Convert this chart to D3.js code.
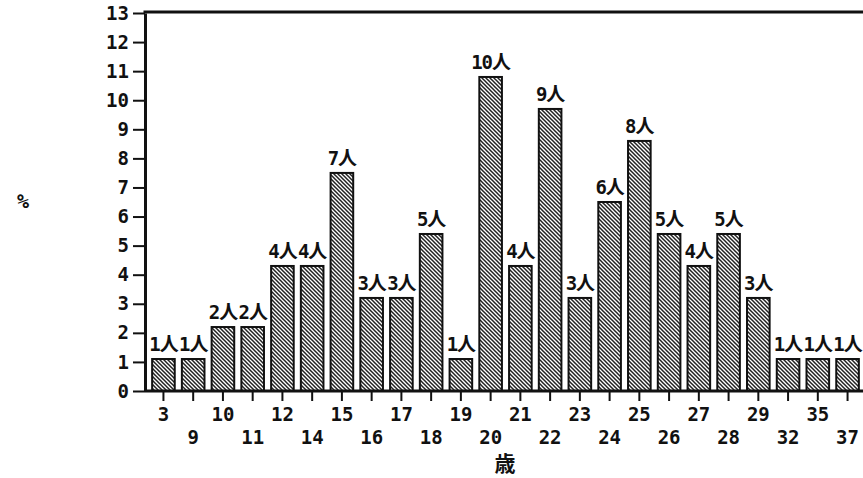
<!DOCTYPE html>
<html>
<head>
<meta charset="utf-8">
<script src="https://cdnjs.cloudflare.com/ajax/libs/d3/7.8.5/d3.min.js"></script>
<style>
  body { margin: 0; background: #fff; }
  svg text { font-family: "DejaVu Sans Mono", "Noto Sans CJK JP", monospace; fill: #111; font-weight: bold; }
</style>
</head>
<body>
<div id="chart"></div>
<script>
    "use strict";

    // ages (歳)
    var ages = ['3','9','10','11','12','14','15','16','17','18','19','20',
                '21','22','23','24','25','26','27','28','29','32','35','37'];
    // number of people per age
    var counts = [1,1,2,2,4,4,7,3,3,5,1,10,4,9,3,6,8,5,4,5,3,1,1,1];
    // percentage
    var pct = [1.1,1.1,2.2,2.2,4.3,4.3,7.5,3.2,3.2,5.4,1.1,10.8,
               4.3,9.7,3.2,6.5,8.6,5.4,4.3,5.4,3.2,1.1,1.1,1.1];
    var yTicks = [0,1,2,3,4,5,6,7,8,9,10,11,12,13];

    var width = 863, height = 478;
    var x0 = 145, yBase = 391, yTop = 13;

    var svg = d3.select("#chart").append("svg")
        .attr("width", width)
        .attr("height", height);

    // hatch fill
    var pat = svg.append("defs").append("pattern")
        .attr("id", "hatch")
        .attr("patternUnits", "userSpaceOnUse")
        .attr("width", 4)
        .attr("height", 4);
    pat.append("rect").attr("width", 4).attr("height", 4).attr("fill", "#fff");
    pat.append("path")
        .attr("d", "M-1,-1L5,5M3,-1L5,1M-1,3L1,5")
        .attr("stroke", "#222")
        .attr("stroke-width", 1.5);

    var x = d3.scaleBand()
        .domain(ages)
        .range([x0, 866])
        .padding(0.24);

    var y = d3.scaleLinear()
        .domain([0, 13])
        .range([yBase, yTop]);

    // bars
    svg.selectAll(".bar")
        .data(ages)
        .enter()
        .append("rect")
        .attr("class", "bar")
        .attr("x", function (d) { return x(d); })
        .attr("y", function (d, i) { return y(pct[i]); })
        .attr("width", x.bandwidth())
        .attr("height", function (d, i) { return yBase - y(pct[i]); })
        .attr("fill", "url(#hatch)")
        .attr("stroke", "#111")
        .attr("stroke-width", 2);

    // count labels
    svg.selectAll(".lbl")
        .data(ages)
        .enter()
        .append("text")
        .attr("class", "lbl")
        .attr("x", function (d) { return x(d) + x.bandwidth() / 2; })
        .attr("y", function (d, i) { return y(pct[i]) - 8; })
        .attr("text-anchor", "middle")
        .attr("letter-spacing", "-1")
        .style("font-size", "19px")
        .text(function (d, i) { return counts[i] + "人"; });

    // y axis
    var yAxis = svg.append("g")
        .attr("transform", "translate(" + x0 + ",0)")
        .call(d3.axisLeft(y).tickValues(yTicks).tickSize(12).tickPadding(4).tickSizeOuter(0));
    yAxis.select(".domain").attr("stroke", "#111").attr("stroke-width", 3);
    yAxis.selectAll(".tick line").attr("stroke", "#111").attr("stroke-width", 2);
    yAxis.selectAll(".tick text").style("font-size", "19px").style("font-family", null);

    // x axis
    var xAxis = svg.append("g")
        .attr("transform", "translate(0," + yBase + ")")
        .call(d3.axisBottom(x).tickSize(10).tickSizeOuter(0));
    xAxis.select(".domain").remove();
    xAxis.selectAll(".tick line").attr("stroke", "#111").attr("stroke-width", 2);
    xAxis.selectAll(".tick text")
        .style("font-size", "19px")
        .style("font-family", null)
        .attr("dy", null)
        .attr("y", function (d, i) { return i % 2 === 0 ? 30 : 53; });

    // frame lines
    svg.append("line")
        .attr("x1", x0).attr("x2", width)
        .attr("y1", yBase).attr("y2", yBase)
        .attr("stroke", "#111").attr("stroke-width", 3);
    svg.append("line")
        .attr("x1", x0 - 1.5).attr("x2", width)
        .attr("y1", yTop - 1).attr("y2", yTop - 1)
        .attr("stroke", "#111").attr("stroke-width", 3);

    // axis titles
    svg.append("text")
        .attr("x", 23).attr("y", 208)
        .attr("text-anchor", "middle")
        .style("font-size", "20px")
        .text("%");
    svg.append("text")
        .attr("x", 505).attr("y", 471)
        .attr("text-anchor", "middle")
        .style("font-size", "21px")
        .text("歳");
</script>
</body>
</html>
